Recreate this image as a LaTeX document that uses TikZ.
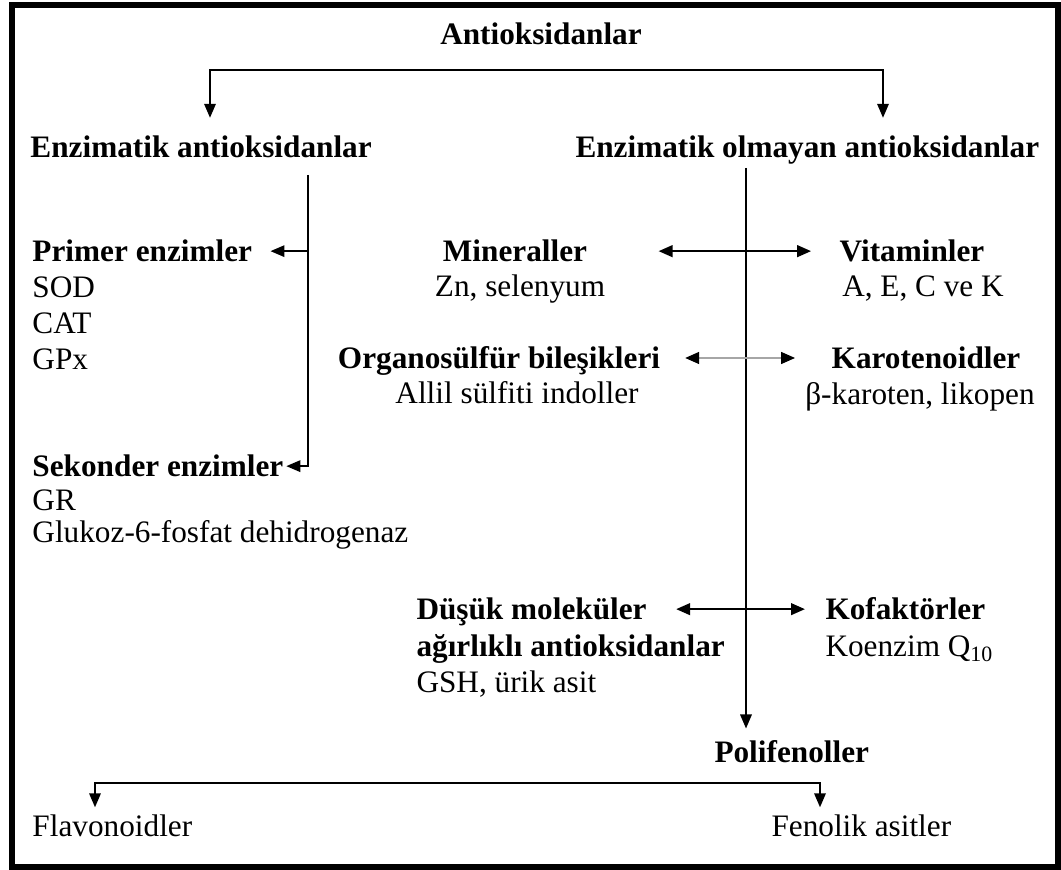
\documentclass[tikz,border=0pt]{standalone}
\usepackage{fontspec}
\setmainfont{Liberation Serif}
\usetikzlibrary{arrows.meta, positioning}

\newcommand{\diasize}{\fontsize{12.5pt}{15pt}\selectfont}

\tikzset{
    head/.style={font=\diasize\bfseries, inner sep=0pt, text depth=0pt},
    item/.style={font=\diasize, inner sep=0pt, text depth=0pt},
    link/.style={line width=0.7pt},
    tip/.style={-{Triangle[length=5.6pt, width=4.6pt]}},
    fork/.style={link, {Triangle[length=5.6pt, width=4.6pt]}-{Triangle[length=5.6pt, width=4.6pt]}},
    both/.style={line width=1pt, {Triangle[length=5.6pt, width=4.6pt, color=black]}-{Triangle[length=5.6pt, width=4.6pt, color=black]}},
}

\begin{document}
\begin{tikzpicture}[x=0.4pt, y=-0.4pt]
    \useasboundingbox (0,0) rectangle (1061,870);
    \draw[line width=2.4pt] (11.5,5) rectangle (1058,867);

    % top level
    \node[head, anchor=base] (root) at (541,45) {Antioksidanlar};
    \node[head, anchor=base west] (enz) at (30,158) {Enzimatik antioksidanlar};
    \node[head, anchor=base west] (nonenz) at (575,158) {Enzimatik olmayan antioksidanlar};

    \coordinate (sL) at (210,70);
    \coordinate (sR) at (883,70);
    \coordinate (tL) at (308,175);
    \coordinate (tR) at (746,168);

    % enzymatic side
    \node[head, anchor=base west] (prim) at (32,262) {Primer enzimler};
    \node[item, below=14.4pt of prim.base west, anchor=base west] (sod) {SOD};
    \node[item, below=14.4pt of sod.base west, anchor=base west] (cat) {CAT};
    \node[item, below=14.4pt of cat.base west, anchor=base west] (gpx) {GPx};

    \node[head, anchor=base west] (sek) at (32,477) {Sekonder enzimler};
    \node[item, below=13.6pt of sek.base west, anchor=base west] (gr) {GR};
    \node[item, below=12.8pt of gr.base west, anchor=base west] (gpd) {Glukoz-6-fosfat dehidrogenaz};

    % non-enzymatic side
    \node[head, anchor=base] (min) at (515,262) {Mineraller};
    \node[item, anchor=base] (zn) at (520,297) {Zn, selenyum};
    \node[head, anchor=base] (vit) at (912,262) {Vitaminler};
    \node[item, anchor=base] (vitl) at (923,297) {A, E, C ve K};

    \node[head, anchor=base] (org) at (499,369) {Organosülfür bileşikleri};
    \node[item, anchor=base] (allil) at (517,404) {Allil sülfiti indoller};
    \node[head, anchor=base] (karo) at (926,369) {Karotenoidler};
    \node[item, anchor=base] (karol) at (920,405) {β-karoten, likopen};

    \node[head, anchor=base west] (dusuk) at (416,620) {Düşük moleküler};
    \node[head, below=14.8pt of dusuk.base west, anchor=base west] (agir) {ağırlıklı antioksidanlar};
    \node[item, below=14.4pt of agir.base west, anchor=base west] (gsh) {GSH, ürik asit};
    \node[head, anchor=base west] (kof) at (825,620) {Kofaktörler};
    \node[item, below=14.8pt of kof.base west, anchor=base west] (koen) {Koenzim Q\textsubscript{10}};

    \node[head, anchor=base west] (poli) at (714,763) {Polifenoller};
    \coordinate (fL) at (95,783);
    \coordinate (fR) at (820,783);
    \node[item, anchor=base west] (flav) at (32,837) {Flavonoidler};
    \node[item, anchor=base west] (fenol) at (771,837) {Fenolik asitler};

    % connectors
    \draw[fork, shorten <=7.2pt, shorten >=7.2pt] (enz.north -| sL) -- (sL) -- (sR) -- (nonenz.north -| sR);
    \draw[link, tip] (tL) |- ([xshift=1pt]sek.east);
    \draw[link, tip] (prim.east -| tL) -- ([xshift=7.2pt]prim.east);
    \draw[link, tip, shorten >=4.8pt] (tR) -- (tR |- poli.north);
    \draw[both, shorten <=28.4pt, shorten >=11.2pt] (min.east) -- (min.east -| vit.west);
    \draw[both, gray!70, shorten <=9.8pt, shorten >=14.4pt] (org.east) -- (org.east -| karo.west);
    \draw[both, shorten <=11.6pt, shorten >=8pt] (dusuk.east) -- (dusuk.east -| kof.west);
    \draw[fork, shorten <=3pt, shorten >=3pt] (flav.north -| fL) -- (fL) -- (fR) -- (fenol.north -| fR);
\end{tikzpicture}
\end{document}
